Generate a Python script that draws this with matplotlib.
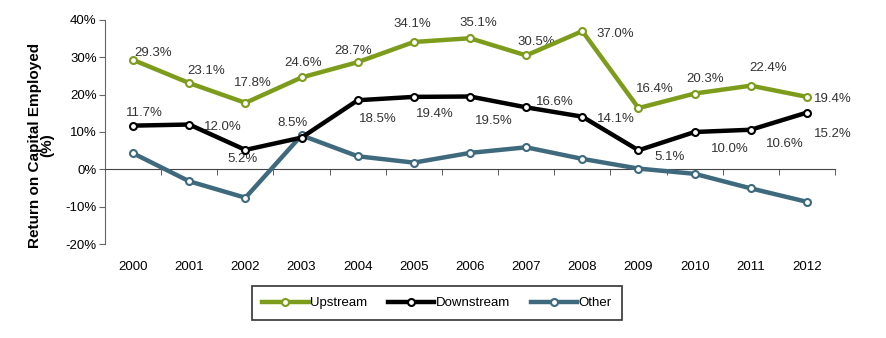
import matplotlib.pyplot as plt

# Rentabilidad sobre capital empleado por segmento
anios = ['2000', '2001', '2002', '2003', '2004', '2005', '2006',
         '2007', '2008', '2009', '2010', '2011', '2012']
upstream = [29.3, 23.1, 17.8, 24.6, 28.7, 34.1, 35.1, 30.5, 37.0, 16.4, 20.3, 22.4, 19.4]
downstream = [11.7, 12.0, 5.2, 8.5, 18.5, 19.4, 19.5, 16.6, 14.1, 5.1, 10.0, 10.6, 15.2]
other = [4.3, -3.2, -7.6, 9.1, 3.5, 1.8, 4.4, 5.9, 2.8, 0.2, -1.2, -5.1, -8.7]

# desplazamiento de cada etiqueta respecto a su punto (pixeles)
off_up = [(20, 7), (17, 12), (7, 20), (2, 14), (-5, 11), (-2, 18), (8, 15),
          (10, 13), (33, -3), (16, 19), (10, 15), (17, 18), (26, -2)]
off_down = [(11, 13), (34, -2), (-3, -9), (-9, 15), (20, -19), (21, -17), (24, -24),
            (29, 5), (34, -2), (31, -7), (35, -17), (34, -14), (26, -21)]

plt.rcParams['font.family'] = ['Liberation Sans', 'DejaVu Sans']

verde = '#7d9c1c'
negro = '#000000'
azul = '#3f6a7e'

fig = plt.figure(figsize=(8.86, 3.38), dpi=100)
ax = fig.add_axes([0.1185, 0.278, 0.9425 - 0.1185, 0.941 - 0.278])

x = list(range(len(anios)))
estilo = dict(linewidth=3.2, marker='o', markersize=5, markerfacecolor='white',
              markeredgewidth=1.5, solid_joinstyle='miter')
ax.plot(x, other, color=azul, label='Other', zorder=3, **estilo)
ax.plot(x, downstream, color=negro, label='Downstream', zorder=4, **estilo)
ax.plot(x, upstream, color=verde, label='Upstream', zorder=5, **estilo)

for i in x:
    ax.annotate(f'{upstream[i]:.1f}%', (i, upstream[i]), xytext=off_up[i],
                textcoords='offset pixels', ha='center', va='center',
                fontsize=9.5, color='#333333')
    ax.annotate(f'{downstream[i]:.1f}%', (i, downstream[i]), xytext=off_down[i],
                textcoords='offset pixels', ha='center', va='center',
                fontsize=9.5, color='#333333')

ax.set_xlim(-0.5, len(anios) - 0.5)
ax.set_ylim(-20, 40)
ax.set_yticks(range(-20, 41, 10))
ax.set_yticklabels([f'{v}%' for v in range(-20, 41, 10)], fontsize=9.5)

# eje horizontal en el cero, etiquetas de años abajo
ax.spines['bottom'].set_position(('data', 0))
ax.spines['top'].set_visible(False)
ax.spines['right'].set_visible(False)
ax.spines['left'].set_color('#666666')
ax.spines['bottom'].set_color('#444444')
ax.set_xticks(x)
ax.set_xticklabels(anios, fontsize=9.5)
ax.set_xticks([i - 0.5 for i in range(len(anios) + 1)], minor=True)
ax.tick_params(axis='x', which='major', length=0, pad=66)
ax.tick_params(axis='x', which='minor', length=4, direction='out', color='#444444')
ax.tick_params(axis='y', length=4, direction='out', color='#666666', pad=2)

ax.set_ylabel('Return on Capital Employed\n(%)', fontsize=11, fontweight='bold',
              linespacing=0.85)
ax.yaxis.set_label_coords(-0.07, 0.44)

h, l = ax.get_legend_handles_labels()
leg = fig.legend(h[::-1], l[::-1], loc='center', bbox_to_anchor=(437 / 886, 1 - 303 / 338),
                 ncol=3, fontsize=9.5, frameon=True, fancybox=False, edgecolor='black',
                 handlelength=3.5, handletextpad=0.1, columnspacing=1.6, borderpad=0.8)
leg.get_frame().set_linewidth(1.2)

fig.savefig('out.png', dpi=100)
